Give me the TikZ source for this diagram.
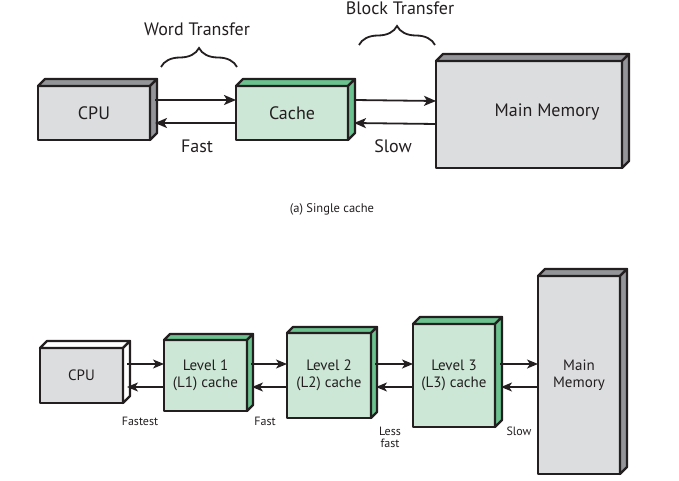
\documentclass[tikz,border=0pt]{standalone}
\usepackage{fontspec}
\setmainfont{PT Sans}
\usetikzlibrary{arrows.meta,decorations.pathreplacing}
\definecolor{grayfront}{HTML}{DCDDDF}
\definecolor{grayside}{HTML}{939598}
\definecolor{greenfront}{HTML}{CDE7D6}
\definecolor{greenside}{HTML}{6CC28E}
\definecolor{ink}{HTML}{231F20}
\tikzset{
  face/.style={draw=ink, line width=2.3pt, line join=round},
  boxfront/.style={face, rectangle, outer sep=0pt, inner sep=0pt, align=center, text=ink},
  arr/.style={draw=ink, line width=1.8pt, -{Stealth[length=12pt,width=10pt,inset=3pt]}},
  sarr/.style={draw=ink, line width=1.7pt, -{Stealth[length=11pt,width=9pt,inset=3pt]}},
  lbl/.style={text=ink, inner sep=0pt},
  bigtxt/.style={font=\fontsize{18}{20}\selectfont},
  midtxt/.style={font=\fontsize{15}{17.5}\selectfont},
  smalltxt/.style={font=\fontsize{12}{11}\selectfont},
  bracestyle/.style={draw=ink, line width=1.8pt, decorate, decoration={brace, amplitude=19pt}},
}
% #1 name, #2 left, #3 top, #4 right, #5 bottom, #6 front colour, #7 side colour, #8 depth, #9 text
\newcommand{\cubebox}[9]{%
  \node[boxfront, fill=#6, minimum width={(#4-#2)*1pt}, minimum height={(#5-#3)*1pt}] (#1) at ({(#2+#4)/2},{(#3+#5)/2}) {#9};
  \path[face, fill=#7] (#1.north west) -- ++(#8,-#8) -- ([shift={(#8,-#8)}]#1.north east) -- (#1.north east) -- cycle;
  \path[face, fill=#7] (#1.north east) -- ++(#8,-#8) -- ([shift={(#8,-#8)}]#1.south east) -- (#1.south east) -- cycle;
}
\begin{document}
\begin{tikzpicture}[x=1pt, y=-1pt]
\useasboundingbox[fill=white] (0,0) rectangle (679,481);

% ---------- (a) single cache ----------
\begin{scope}[bigtxt]
\cubebox{cpu}{38}{86}{150}{140}{grayfront}{grayside}{7}{CPU}
\cubebox{cache}{236}{86}{348}{140}{greenfront}{greenside}{7}{Cache}
\cubebox{mm}{436}{61}{622}{168}{grayfront}{grayside}{7}{}
\node[lbl] (mmtext) at (547,112) {Main Memory};
\end{scope}

\draw[arr] ([shift={(5,-13)}]cpu.east) -- ([shift={(0,-13)}]cache.west);
\draw[arr] ([shift={(0,10)}]cache.west) -- ([shift={(5,10)}]cpu.east);
\draw[arr] ([shift={(6,-13)}]cache.east) -- ([shift={(0,-13.5)}]mm.west);
\draw[arr] ([shift={(0,9.5)}]mm.west) -- ([shift={(6,10)}]cache.east);

\node[lbl, bigtxt] (fast) at (197,146) {Fast};
\node[lbl, bigtxt] (slow) at (393,146) {Slow};

\coordinate (wb1) at (161,67);
\coordinate (wb2) at (237,67);
\draw[bracestyle] (wb1) -- (wb2);
\node[lbl, bigtxt] (word) at (197,29) {Word Transfer};

\coordinate (bb1) at (359,45);
\coordinate (bb2) at (435,45);
\draw[bracestyle] (bb1) -- (bb2);
\node[lbl, bigtxt] (block) at (400,8) {Block Transfer};

\node[lbl, font=\fontsize{12.5}{14}\selectfont] (capa) at (332,209) {(a) Single cache};

% ---------- multilevel ----------
\begin{scope}[midtxt]
\cubebox{cpub}{40}{348}{123}{403}{grayfront}{white}{7}{CPU}
\cubebox{lone}{164}{340}{247}{411}{greenfront}{greenside}{6}{Level 1\\(L1) cache}
\cubebox{ltwo}{287}{333}{371}{418}{greenfront}{greenside}{6}{Level 2\\(L2) cache}
\cubebox{lthree}{413}{324}{495}{427}{greenfront}{greenside}{7}{Level 3\\(L3) cache}
\cubebox{mmb}{538}{276}{620}{474}{grayfront}{grayside}{7}{Main\\Memory}
\end{scope}

\draw[sarr] ([shift={(4,-11.5)}]cpub.east) -- ([shift={(0,-11.5)}]lone.west);
\draw[sarr] ([shift={(0,11.5)}]lone.west) -- ([shift={(4,11.5)}]cpub.east);
\draw[sarr] ([shift={(4,-11.5)}]lone.east) -- ([shift={(0,-11.5)}]ltwo.west);
\draw[sarr] ([shift={(0,11.5)}]ltwo.west) -- ([shift={(5,11.5)}]lone.east);
\draw[sarr] ([shift={(4,-11.5)}]ltwo.east) -- ([shift={(0,-11.5)}]lthree.west);
\draw[sarr] ([shift={(0,11.5)}]lthree.west) -- ([shift={(5,11.5)}]ltwo.east);
\draw[sarr] ([shift={(5,-11.5)}]lthree.east) -- ([shift={(0,-11)}]mmb.west);
\draw[sarr] ([shift={(0,12)}]mmb.west) -- ([shift={(6,11.5)}]lthree.east);

\begin{scope}[smalltxt]
\node[lbl] (fastest) at (140,421) {Fastest};
\node[lbl] (fastb) at (265,421) {Fast};
\node[lbl, align=center] (lessfast) at (390,437) {Less\\[1pt]fast};
\node[lbl] (slowb) at (519,431) {Slow};
\end{scope}
\end{tikzpicture}
\end{document}
